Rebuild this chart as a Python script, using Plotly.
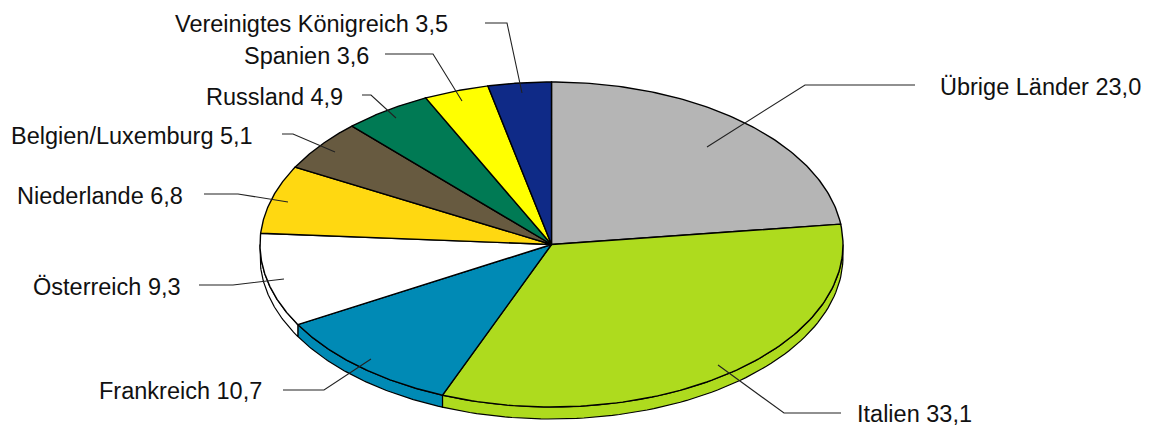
import numpy as np
import plotly.graph_objects as go

# ---- data ----
countries = ["Übrige Länder", "Italien", "Frankreich", "Österreich", "Niederlande",
             "Belgien/Luxemburg", "Russland", "Spanien", "Vereinigtes Königreich"]
shares = [23.0, 33.1, 10.7, 9.3, 6.8, 5.1, 4.9, 3.6, 3.5]
colors = ["#B5B5B5", "#AEDB1E", "#008AB5", "#FFFFFF", "#FFD811",
          "#675A40", "#007A54", "#FFFF00", "#0F2A87"]

# ---- layout constants (pixel-scaled axes) ----
W, H = 1151, 426
CX, CY, RX, RY, DEPTH = 551.5, 244.5, 291.5, 162.5, 12
FONT = dict(family="Liberation Sans", size=23.5, color="#111111")

# label left edge, label centre y
label_pos = [(938, 87), (855, 414), (97, 391), (31, 287), (15, 196),
             (9, 136), (204, 97), (242, 56), (173, 24)]
# leader: end near label, elbow, tip inside the slice
leaders = [
    [(915, 85), (805, 85), (707, 147)],
    [(841, 413), (784, 413), (718, 365)],
    [(283, 390), (324, 390), (371, 359)],
    [(199, 285), (233, 285), (284, 279)],
    [(204, 194), (238, 194), (288, 202)],
    [(282, 134), (293, 134), (335, 152)],
    [(362, 95), (371, 95), (396, 118)],
    [(385, 54), (433, 54), (462, 101)],
    [(485, 23), (507, 23), (522, 93)],
]


def ell(deg, dy=0.0):
    t = np.radians(deg)
    return CX + RX * np.sin(t), CY - RY * np.cos(t) + dy


fig = go.Figure()
edges = np.concatenate([[0], np.cumsum(shares)]) * 360 / sum(shares)

# side walls (only the front half of the disc is visible)
for a0, a1, col in zip(edges[:-1], edges[1:], colors):
    lo, hi = max(a0, 90), min(a1, 270)
    if lo >= hi:
        continue
    t = np.linspace(lo, hi, 80)
    x1, y1 = ell(t)
    x2, y2 = ell(t[::-1], DEPTH)
    fig.add_trace(go.Scatter(
        x=np.r_[x1, x2, x1[0]], y=np.r_[y1, y2, y1[0]], mode="lines", fill="toself",
        fillcolor=col, line=dict(color="#000000", width=1.2), hoverinfo="skip"))

# top faces
for a0, a1, col in zip(edges[:-1], edges[1:], colors):
    t = np.linspace(a0, a1, 100)
    x, y = ell(t)
    fig.add_trace(go.Scatter(
        x=np.r_[CX, x, CX], y=np.r_[CY, y, CY], mode="lines", fill="toself",
        fillcolor=col, line=dict(color="#000000", width=1.4), hoverinfo="skip"))

# leader lines
for pts in leaders:
    fig.add_trace(go.Scatter(
        x=[p[0] for p in pts], y=[p[1] for p in pts], mode="lines",
        line=dict(color="#222222", width=1.1), hoverinfo="skip"))

# labels
for name, val, (lx, ly) in zip(countries, shares, label_pos):
    fig.add_annotation(
        x=lx, y=ly, xref="x", yref="y", xanchor="left", yanchor="middle",
        text=f"{name} {val:.1f}".replace(".", ","), showarrow=False, font=FONT)

fig.update_layout(
    width=W, height=H, margin=dict(l=0, r=0, t=0, b=0), showlegend=False,
    paper_bgcolor="white", plot_bgcolor="white",
    xaxis=dict(range=[0, W], visible=False, fixedrange=True),
    yaxis=dict(range=[H, 0], visible=False, fixedrange=True),
)
fig.write_html(
    "out.html", config=dict(displayModeBar=False),
    post_script="document.body.style.margin='0';document.body.style.overflow='hidden';",
)
